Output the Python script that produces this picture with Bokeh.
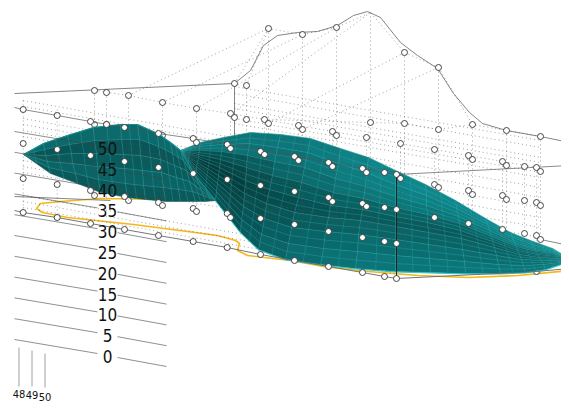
from bokeh.plotting import figure
from bokeh.embed import file_html
from bokeh.resources import INLINE
from bokeh.core.properties import value

# ---- scatter rows
col_s0 = [22.7,56.7,90,124,158,192.7,226.7,260,294,328,362,384,396]
row_z0 = [212,217,223,229,235,241,247,254,260,266,272,276,278]
row_z1 = [178,184,190,196,202,208,213,218,224,231,237,241,243]
row_z2 = [143,149,155,161,167,173,179,185,191,197,203,207,209]
row_z3 = [109,115,121,127,133,138,144,151,156,162,168,172,174]

col_b = [94,128,162,196,230,264,298,332,366,400,434,468,502,536]
row_b = [90,95,102,108,113,119,125,131,137,143,149,155,161,167]
col_b2 = [234,268,302,336,472,506,540]
row_b2 = [117,123,129,135,159,165,171]
col_c = [94,162,196,230,264,298,332,366,400]
row_c = [124,135,142,148,154,160,166,172,178]
col_d = [94,128,162,196,230]
row_d = [195,200,205,211,217]
col_e = [298,332,366]
row_e = [195,201,206]
col_r = [434,468,502,524,536]
row_r2 = [184,190,195,200,202]
row_r1 = [217,223,229,233,235]
row_r0 = [251,258,264,268,271]
col_r_b = [438,472,506,540]
row_r2b = [187,194,199,205]
col_x = [524,540,106,106,246,246,234,370,404,438,472,506,540]
row_x = [166,239,92,124,85,119,83,122,123,129,124,130,136]
col_pk = [268,302,336,404,438]
row_pk = [28,34,27,52,67]

# silhouette curve
sil_x = [234,250,263,277,297,317,337,353,367,380,400,417,437,453,469,482,506,540,569]
sil_y = [83,70,45,35,32,31,25,15,11,17,42,55,68,93,112,123,130,136,142]

# orange contour
ora_x = [213,167,100,60,40,36,42,67,133,187,217,235,239,237,247,290,323,357,368,418,468,518,569]
ora_y = [200,199,198,201,203,208,212,217,224,231,235,240,243,250,255,260,266,270,271,275,277,275,270]

# tick labels
z_labels = ["0","5","10","15","20","25","30","35","40","45","50"]
z_vals = [0,5,10,15,20,25,30,35,40,45,50]
lat_labels = ["48","49","50"]
lat_x = [18.5,31.5,44.5]
lat_y = [393,394,396]

# ---- surface mesh, right part
R_x = [
 [180,200,223,250,280,310,340,368,395,425,455,485,510,530,552,569],
 [180,199,222,249,277,307,338,366,395,426,456,487,512,532,553,569],
 [180,199,221,247,274,304,335,365,395,426,458,489,514,534,554,569],
 [180,198,220,246,272,301,333,363,395,427,459,491,516,536,555,569],
 [180,198,219,245,269,298,330,362,395,427,460,492,517,537,556,569],
 [180,197,218,244,266,294,328,360,395,428,461,494,519,539,557,569],
 [180,196,217,243,264,291,325,358,395,428,462,496,521,541,558,569],
 [180,196,216,241,261,288,323,357,395,429,464,498,523,543,559,569],
 [180,195,215,240,258,285,320,355,395,430,465,500,525,545,560,569],
]
R_y = [
 [150,142,137,132,134,138,148,157,170,184,200,218,232,240,248,258],
 [150,146,144,143,147,152,163,172,184,195,208,224,237,244,250,258],
 [150,150,151,155,161,167,178,186,196,205,216,230,242,248,252,258],
 [150,154,159,167,175,182,192,198,207,214,223,236,246,251,254,258],
 [150,158,167,180,189,197,205,209,216,222,230,241,250,254,256,258],
 [150,162,175,193,203,212,217,220,226,232,238,247,254,257,258,258],
 [150,166,183,206,218,227,231,234,239,244,249,255,259,260,260,258],
 [150,171,191,219,234,243,248,251,255,258,261,264,265,264,262,258],
 [150,176,200,232,249,259,264,268,271,272,273,273,272,269,264,258],
]
# ---- surface mesh, left lobe
L_x = [
 [23,43,67,93,120,137,157,170,180,195,215],
 [23,44,69,94,121,139,158,172,183,197,215],
 [23,45,71,96,123,140,160,174,186,199,215],
 [23,47,72,97,124,142,161,176,189,201,215],
 [23,48,75,98,125,143,163,178,192,203,215],
 [23,50,77,100,127,145,165,180,195,205,215],
]
L_y = [
 [154,143,135,127,124,124,133,142,150,175,200],
 [154,149,144,140,139,139,146,153,160,180,200],
 [154,155,153,153,154,155,159,165,170,185,200],
 [154,161,163,166,168,170,172,177,181,190,200],
 [154,167,173,179,183,185,187,189,191,195,200],
 [154,173,183,192,197,199,201,201,201,201,200],
]
R_band = ["#0e888c","#0d8286","#0b787b","#096466","#085a5c","#0a6466","#0a6e71","#0b7679"]
R_fade = [.62,.66,.70,.78,.86,.92,.97,1,1,1,1,1,1,1,1]
L_band = ["#0a6a6c","#085657","#095b5c","#0a6364","#095a5b"]

# The photographed page starts at the figure's own corner.
p = figure(width=561, height=402, x_range=(0,561), y_range=(402,0),
           output_backend="svg", toolbar_location=None, min_border=0)
p.axis.visible = False
p.grid.visible = False
p.outline_line_color = None
p.background_fill_color = "white"
p.border_fill_color = "white"

def hex_scale(h, f):
    r,g,b = int(h[1:3],16),int(h[3:5],16),int(h[5:7],16)
    return "#%02x%02x%02x" % (int(r*f),int(g*f),int(b*f))

def refine(rows):
    # doubles the mesh lines (the drawn net is finer than the sampled sections)
    out = []
    for i in range(len(rows)-1):
        out.append(rows[i])
        out.append([(a+b)/2 for a,b in zip(rows[i],rows[i+1])])
    out.append(rows[-1])
    return out

def refine_cols(rows):
    out = []
    for r in rows:
        n = []
        for i in range(len(r)-1):
            n += [r[i],(r[i]+r[i+1])/2]
        n.append(r[-1])
        out.append(n)
    return out

def solid(xs, ys, c="#777777", w=0.9, a=1.0):
    p.line(xs, ys, line_color=c, line_width=w, line_alpha=a)

# lines behind the surface
p.line(ora_x, ora_y, line_color="#f5b71a", line_width=1.6)
solid(sil_x, sil_y)
solid([14,234],[93,83])
solid([234,234],[83,142])
solid([14,110],[196,200])
solid([540,569],[239,245])

# hidden-behind points
hid_x = col_d[:2]+col_r+col_e[:1]+[400]
hid_y = row_d[:2]+row_r0+row_e[:1]+[212]
p.scatter(hid_x, hid_y, size=6, fill_color="white", line_color="#333333", line_width=0.9)
p.scatter(col_c[:2]+[106], row_c[:2]+[124], size=6, fill_color="white", line_color="#333333", line_width=0.9)

# surface
quads_x, quads_y, quads_c = [], [], []
for v in range(len(R_x)-1):
    for u in range(len(R_x[0])-1):
        quads_x.append([R_x[v][u],R_x[v][u+1],R_x[v+1][u+1],R_x[v+1][u]])
        quads_y.append([R_y[v][u],R_y[v][u+1],R_y[v+1][u+1],R_y[v+1][u]])
        f = R_fade[u] if v >= 2 else max(R_fade[u], .88)
        quads_c.append(hex_scale(R_band[v], f))
p.patches(quads_x, quads_y, fill_color=quads_c, line_color=quads_c, line_width=0.5)
Rfx, Rfy = refine_cols(refine(R_x)), refine_cols(refine(R_y))
for r_x, r_y in zip(Rfx, Rfy):
    p.line(r_x, r_y, line_color="#3ab9b9", line_width=0.5, line_alpha=0.6)
for u in range(1, len(Rfx[0])-1):
    p.line([r[u] for r in Rfx], [r[u] for r in Rfy], line_color="#3ab9b9", line_width=0.5, line_alpha=0.5)
p.line(R_x[-1], [y+0.5 for y in R_y[-1]], line_color="#30c8c8", line_width=1.0)

quads_x, quads_y, quads_c = [], [], []
for v in range(len(L_x)-1):
    for u in range(len(L_x[0])-1):
        quads_x.append([L_x[v][u],L_x[v][u+1],L_x[v+1][u+1],L_x[v+1][u]])
        quads_y.append([L_y[v][u],L_y[v][u+1],L_y[v+1][u+1],L_y[v+1][u]])
        quads_c.append(L_band[v])
p.patches(quads_x, quads_y, fill_color=quads_c, line_color=quads_c, line_width=0.5)
Lfx, Lfy = refine_cols(L_x), refine_cols(L_y)
for r_x, r_y in zip(Lfx[1:-1], Lfy[1:-1]):
    p.line(r_x, r_y, line_color="#35b0b0", line_width=0.6, line_alpha=0.55)
for u in range(1, len(Lfx[0])-1):
    p.line([r[u] for r in Lfx], [r[u] for r in Lfy], line_color="#35b0b0", line_width=0.6, line_alpha=0.55)
p.line(L_x[0], L_y[0], line_color="#0f9090", line_width=1.1)

# dotted frame
dot = dict(line_color="#555555", line_width=1, line_dash="1 3", line_alpha=0.55)
# verticals: x, top, bottom
vert_x   = [22.7,56.7,94,106,128,162,196,230,246,264,268,298,302,332,336,366,370,400,404,434,438,468,472,502,506,524,536,540]
vert_top = [100,109,90,92,95,102,108,113,85,119,28,125,34,131,27,137,12,143,52,149,67,155,124,161,130,166,167,136]
vert_bot = [212,217,195,197,200,205,211,217,222,225,229,232,236,238,242,244,248,250,254,256,260,262,266,268,272,268,271,275]
for x,t,b in zip(vert_x, vert_top, vert_bot):
    p.line([x,x],[t,b],**dot)
# left wall rows: y at x=22.7 -> x=396
wall_a_l = [100,106,118,124,130,136,160,166,172,195,201,207]
wall_a_r = [166,172,184,190,196,202,226,232,238,261,267,273]
for a,b in zip(wall_a_l, wall_a_r):
    p.line([22.7,396],[a,b],**dot)
# right wall rows: y at x=234 -> x=540
wall_b_l = [86,93,103,108,118,123,133,143,153,163,173,183,190,198]
wall_b_r = [140,147,157,162,172,177,187,197,207,217,227,237,244,252]
for a,b in zip(wall_b_l, wall_b_r):
    p.line([234,540],[a,b],**dot)
# point rows
p.line(col_b, row_b, **dot)
p.line([264,370,404,438,472,506,540],[119,122,123,129,124,130,136], **dot)
# crest
p.line([234]+[268,302,336,370]+col_pk[3:], [83]+[28,34,27,12]+row_pk[3:], **dot)
p.line([246,268],[85,28], **dot)
p.line([438,472],[67,124], **dot)
# diagonals
diag_x0 = [128,162,196,230,268,302]
diag_y0 = [95,102,108,114,123,129]
diag_x1 = [268,302,336,370,404,438]
diag_y1 = [28,34,27,12,52,67]
for a,b,c,d in zip(diag_x0,diag_y0,diag_x1,diag_y1):
    p.line([a,c],[b,d],**dot)

# solid lines over the surface
solid([14]+col_s0+[569],[107]+row_z3+[165], c="#555555", w=0.8, a=0.85)
solid([14]+col_s0+[536,569],[210]+row_z0+[271,268], c="#666666", w=0.9)
p.line([396,396],[174,278], line_color="#222222", line_width=1.0)

for k in z_vals:
    y = 339-4.16*k
    solid([14,97],[y,y+14], c="#444444", w=0.7, a=0.85)
    solid([117,166],[y+18,y+27], c="#444444", w=0.7, a=0.85)

# latitude ticks
for x,t,b in zip(lat_x,[347,350,353],[386,386,387]):
    solid([x,x],[t,b], c="#888888", w=0.8)
    solid([x,x],[b+16,412], c="#888888", w=0.8)

# visible points
pts_x = col_s0*4 + col_b + col_b2 + col_c[2:] + col_d[2:] + col_e[1:] + col_r + col_r + col_r_b + col_x + col_pk
pts_y = row_z0+row_z1+row_z2+row_z3 + row_b + row_b2 + row_c[2:] + row_d[2:] + row_e[1:] + row_r2 + row_r1 + row_r2b + row_x + row_pk
p.scatter(pts_x, pts_y, size=6, fill_color="white", line_color="#333333", line_width=0.9)

# labels
p.text(x=[107]*len(z_vals), y=[356-4.16*k for k in z_vals], text=z_labels,
       text_font=value("DejaVu Sans Condensed"), text_font_size="17px", text_color="#111111",
       text_align="center", text_baseline="middle")
p.text(x=lat_x, y=lat_y, text=lat_labels, text_font=value("DejaVu Sans Condensed"),
       text_font_size="11px", text_color="#111111", text_align="center", text_baseline="middle")

open("out.html","w").write(file_html(p, INLINE))
